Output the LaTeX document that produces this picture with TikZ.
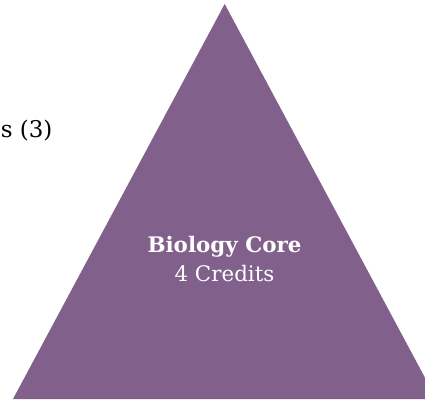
\documentclass[tikz,border=0pt]{standalone}
\usepackage{fontspec}
\setmainfont{DejaVu Serif}
\definecolor{corepurple}{RGB}{130,96,140}
\tikzset{
  lbl/.style={inner sep=0pt, outer sep=0pt, font=\fontsize{21.4}{26}\selectfont},
  onpurple/.style={lbl, text=white}
}
\begin{document}
\begin{tikzpicture}[x=1pt,y=1pt]
\useasboundingbox (0,0) rectangle (425,400);
\clip (0,0) rectangle (425,400);
\coordinate (apex) at (224.7,396);
\coordinate (bl) at (13,1);
\coordinate (br) at (436.4,1);
\fill[corepurple] (apex) -- (bl) -- (br) -- cycle;
\node[onpurple, anchor=base, font=\fontsize{21.4}{26}\selectfont\bfseries] (title) at (224.5,148) {Biology Core};
\node[onpurple, anchor=base] (credits) at (224.5,119) {4 Credits};
\node[lbl, anchor=base east, font=\fontsize{23}{27}\selectfont] (elect) at (52.5,262.5) {s (3)};
\end{tikzpicture}
\end{document}
